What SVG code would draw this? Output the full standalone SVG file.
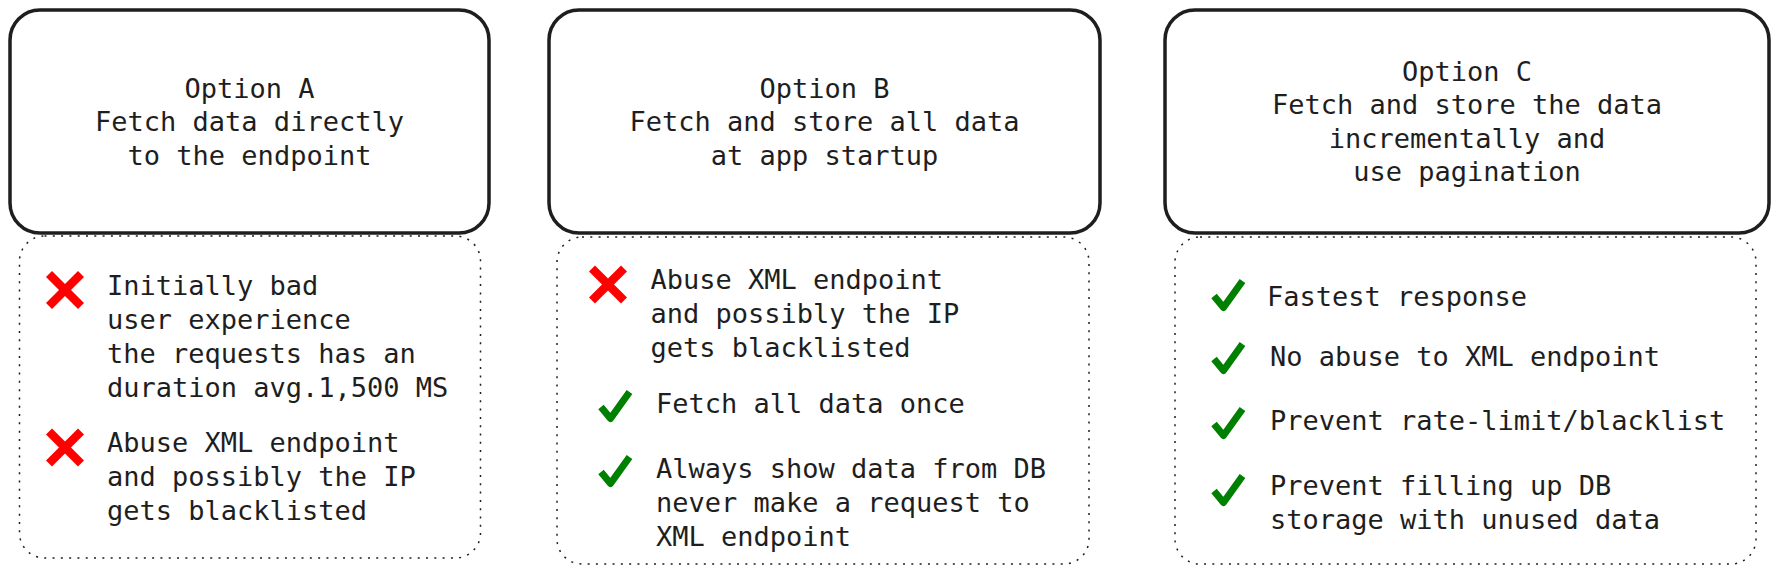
<svg xmlns="http://www.w3.org/2000/svg" width="1778" height="574" viewBox="0 0 1778 574">
<style>
.box{fill:#ffffff;stroke:#1e1e1e;stroke-width:3.5}
.dot{fill:none;stroke:#1e1e1e;stroke-width:1.5;stroke-dasharray:2 6.3}
text{font-family:"DejaVu Sans Mono","Liberation Mono",monospace;font-size:27px;fill:#1e1e1e}
.c{text-anchor:middle}
.x{stroke:#ff0000;stroke-width:8.5;fill:none}
.ok{stroke:#008000;stroke-width:7;fill:none;stroke-linejoin:round}
</style>
<defs>
<g id="cross"><line class="x" x1="-16" y1="-16" x2="16" y2="16"/><line class="x" x1="-16" y1="16" x2="16" y2="-16"/></g>
<path id="tick" class="ok" d="M4 19 L13.5 30.5 L32.5 4"/>
</defs>
<rect width="1778" height="574" fill="#ffffff"/>
<g id="connectors"/>
<g id="optionA">
<rect class="box" x="10" y="10" width="479" height="223" rx="30"/>
<text class="c" x="249.5" y="97.5">Option A</text>
<text class="c" x="249.5" y="131">Fetch data directly</text>
<text class="c" x="249.5" y="164.5">to the endpoint</text>
</g>
<g id="optionA-notes">
<rect class="dot" x="19.5" y="236" width="461" height="322" rx="25"/>
<use href="#cross" x="65" y="290"/>
<text x="107" y="295">Initially bad</text>
<text x="107" y="329">user experience</text>
<text x="107" y="363">the requests has an</text>
<text x="107" y="397">duration avg.1,500 MS</text>
<use href="#cross" x="65" y="447.5"/>
<text x="107" y="452">Abuse XML endpoint</text>
<text x="107" y="486">and possibly the IP</text>
<text x="107" y="520">gets blacklisted</text>
</g>
<g id="optionB">
<rect class="box" x="549" y="10" width="551" height="223" rx="30"/>
<text class="c" x="824.5" y="97.5">Option B</text>
<text class="c" x="824.5" y="131">Fetch and store all data</text>
<text class="c" x="824.5" y="164.5">at app startup</text>
</g>
<g id="optionB-notes">
<rect class="dot" x="557" y="237" width="532" height="327" rx="25"/>
<use href="#cross" x="608" y="284.5"/>
<text x="650.5" y="289">Abuse XML endpoint</text>
<text x="650.5" y="323">and possibly the IP</text>
<text x="650.5" y="357">gets blacklisted</text>
<use href="#tick" x="597" y="388"/>
<text x="656" y="413">Fetch all data once</text>
<use href="#tick" x="597" y="453"/>
<text x="656" y="478">Always show data from DB</text>
<text x="656" y="512">never make a request to</text>
<text x="656" y="546">XML endpoint</text>
</g>
<g id="optionC">
<rect class="box" x="1165" y="10" width="604" height="223" rx="30"/>
<text class="c" x="1467" y="80.5">Option C</text>
<text class="c" x="1467" y="114">Fetch and store the data</text>
<text class="c" x="1467" y="147.5">incrementally and</text>
<text class="c" x="1467" y="181">use pagination</text>
</g>
<g id="optionC-notes">
<rect class="dot" x="1175" y="237" width="581" height="327" rx="25"/>
<use href="#tick" x="1210" y="277"/>
<text x="1267" y="305.5">Fastest response</text>
<use href="#tick" x="1210" y="340"/>
<text x="1270" y="366">No abuse to XML endpoint</text>
<use href="#tick" x="1210" y="405"/>
<text x="1270" y="430">Prevent rate-limit/blacklist</text>
<use href="#tick" x="1210" y="472"/>
<text x="1270" y="495">Prevent filling up DB</text>
<text x="1270" y="529">storage with unused data</text>
</g>
</svg>
